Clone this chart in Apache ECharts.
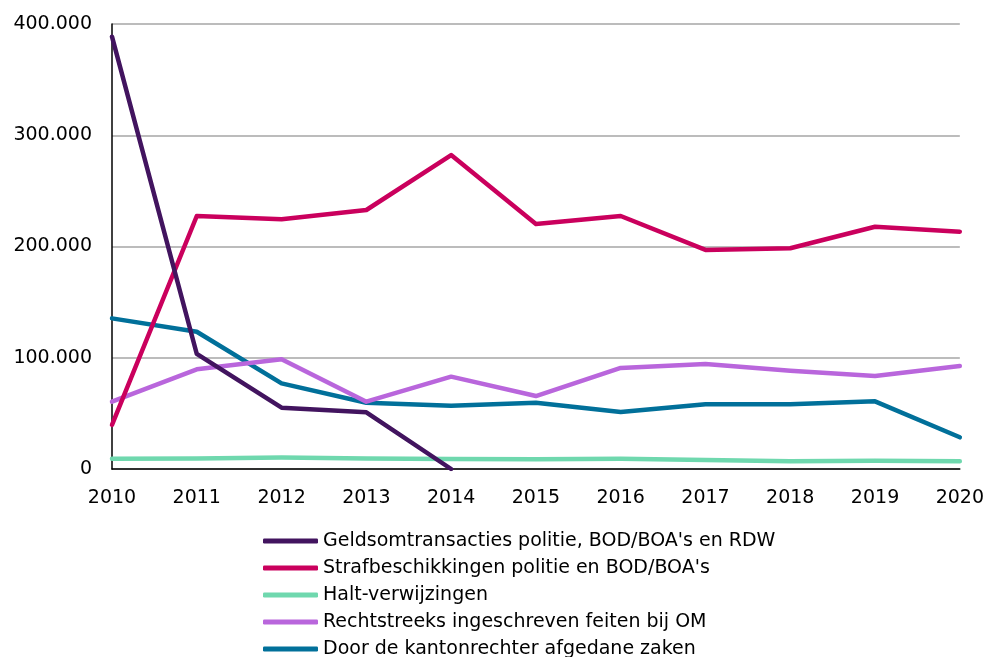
<!DOCTYPE html>
<html>
<head>
<meta charset="utf-8">
<script src="https://cdn.jsdelivr.net/npm/echarts@6/dist/echarts.min.js"></script>
<style>html,body{margin:0;padding:0;background:#fff}#c{width:987px;height:657px}</style>
</head>
<body>
<div id="c"></div>
<script>
const years = ['2010','2011','2012','2013','2014','2015','2016','2017','2018','2019','2020'];
const geldsom = [388600, 103400, 55100, 51000, 0, null, null, null, null, null, null];
const strafbeschikkingen = [39600, 227400, 224400, 232800, 282200, 220200, 227400, 196900, 198400, 217800, 213300];
const halt = [9300, 9500, 10300, 9500, 8900, 8700, 9200, 8200, 7000, 7500, 6900];
const rechtstreeks = [60500, 89600, 98600, 60500, 83000, 65600, 90800, 94400, 88400, 83600, 92600];
const kantonrechter = [135400, 123400, 77000, 59600, 56900, 59600, 51200, 58200, 58200, 60800, 28500];
const seriesNames = [
  "Geldsomtransacties politie, BOD/BOA's en RDW",
  "Strafbeschikkingen politie en BOD/BOA's",
  "Halt-verwijzingen",
  "Rechtstreeks ingeschreven feiten bij OM",
  "Door de kantonrechter afgedane zaken"
];
const colors = ['#42145F', '#CA005D', '#6FD8AE', '#B966DC', '#01709A'];
const dataList = [geldsom, strafbeschikkingen, halt, rechtstreeks, kantonrechter];

function fmt(v){
  return String(v).replace(/\B(?=(\d{3})+(?!\d))/g, '.');
}
const font = 'DejaVu Sans';
const chart = echarts.init(document.getElementById('c'), null, {renderer:'canvas'});
chart.setOption({
  animation: false,
  color: colors,
  grid: {left: 112, right: 25, top: 24, bottom: 188, containLabel: false},
  xAxis: {
    type: 'category',
    data: years,
    boundaryGap: false,
    axisLine: {lineStyle: {color: '#000', width: 1.5}},
    axisTick: {show: false},
    axisLabel: {color: '#000', fontFamily: font, fontSize: 19, margin: 20}
  },
  yAxis: {
    type: 'value',
    min: 0, max: 400000, interval: 100000,
    axisLine: {show: true, lineStyle: {color: '#000', width: 1.5}},
    axisTick: {show: false},
    splitLine: {lineStyle: {color: '#A6A6A6', width: 1.5}},
    axisLabel: {color: '#000', fontFamily: font, fontSize: 19, margin: 20, formatter: fmt}
  },
  legend: {
    orient: 'vertical',
    left: 263, top: 531,
    height: 300,
    padding: 0,
    icon: 'roundRect',
    itemWidth: 55, itemHeight: 5,
    itemGap: 7,
    textStyle: {color: '#000', fontFamily: font, fontSize: 19, lineHeight: 20},
    data: seriesNames
  },
  series: dataList.map((d, i) => ({
    name: seriesNames[i],
    type: 'line',
    data: d,
    showSymbol: false,
    symbol: 'none',
    connectNulls: false,
    lineStyle: {width: 4.5, color: colors[i], cap: 'round', join: 'round'},
    itemStyle: {color: colors[i]},
    z: 10 - i
  }))
});
</script>
</body>
</html>
